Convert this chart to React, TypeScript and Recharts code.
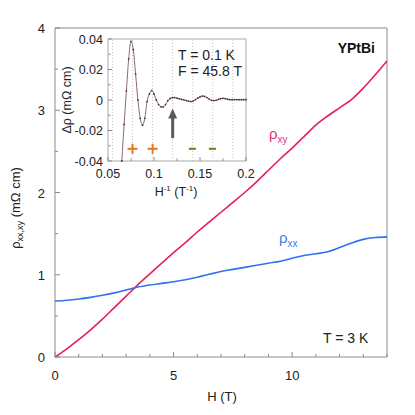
import React from 'react';
import {
  LineChart,
  ComposedChart,
  Line,
  XAxis,
  YAxis,
  ReferenceArea,
  ReferenceLine,
  Scatter,
} from 'recharts';

// ---------- main panel data ----------
const fieldT = [0, 0.5, 1, 1.5, 2, 2.5, 3, 3.5, 4, 4.5, 5, 5.5, 6, 6.5, 7, 7.5, 8, 8.5, 9, 9.5, 10, 10.5, 11, 11.5, 12, 12.5, 13, 13.5, 14];
const rhoXY = [0, 0.1, 0.21, 0.33, 0.46, 0.6, 0.74, 0.88, 1.01, 1.14, 1.27, 1.39, 1.52, 1.64, 1.76, 1.88, 2.0, 2.13, 2.27, 2.41, 2.54, 2.68, 2.82, 2.93, 3.03, 3.13, 3.27, 3.43, 3.6];
const rhoXX = [0.68, 0.69, 0.705, 0.725, 0.75, 0.78, 0.815, 0.85, 0.875, 0.895, 0.915, 0.94, 0.97, 1.005, 1.04, 1.065, 1.09, 1.115, 1.14, 1.165, 1.2, 1.235, 1.255, 1.28, 1.33, 1.385, 1.43, 1.452, 1.46];
const mainXTicks = [0, 1, 2, 3, 4, 5, 6, 7, 8, 9, 10, 11, 12, 13, 14];
const mainXLabels = [0, 5, 10];
const mainYTicks = [0, 0.5, 1, 1.5, 2, 2.5, 3, 3.5, 4];
const mainYLabels = [0, 1, 2, 3, 4];

// ---------- inset data ----------
const invField = [0.065, 0.0675, 0.07, 0.0725, 0.075, 0.0775, 0.08, 0.0825, 0.085, 0.0875, 0.09, 0.0925, 0.095, 0.0975, 0.1, 0.1025, 0.105, 0.1075, 0.11, 0.1125, 0.115, 0.1175, 0.12, 0.1225, 0.125, 0.1275, 0.13, 0.1325, 0.135, 0.1375, 0.14, 0.1425, 0.145, 0.1475, 0.15, 0.1525, 0.155, 0.1575, 0.16, 0.1625, 0.165, 0.1675, 0.17, 0.1725, 0.175, 0.1775, 0.18, 0.1825, 0.185, 0.1875, 0.19, 0.1925, 0.195, 0.1975, 0.2];
const deltaRho = [-0.04, -0.016, 0.006, 0.027, 0.0385, 0.033, 0.017, 0.0, -0.012, -0.0165, -0.012, -0.001, 0.004, 0.0062, 0.004, 0.0, -0.003, -0.0045, -0.0045, -0.003, -0.0005, 0.001, 0.0015, 0.0016, 0.0012, 0.0008, 0.0004, 0.0001, -0.0004, -0.0008, -0.001, -0.0007, 0.0002, 0.0012, 0.002, 0.0026, 0.0024, 0.0016, 0.0006, -0.0002, -0.0004, -0.0002, 0.0004, 0.0009, 0.0011, 0.0009, 0.0005, 0.0002, 0.0002, 0.0003, 0.0002, 0.0002, 0.0002, 0.0002, 0.0002];
const fringeLines = [0.0549, 0.0767, 0.0985, 0.1203, 0.1421, 0.1639, 0.1857];
const plusMarks = [0.0766, 0.0985];
const minusMarks = [0.1417, 0.1635];
const markLevel = -0.032;
const arrowX = 0.1203;
const arrowFrom = -0.025;
const arrowTo = -0.0055;
const insetXTicks = [0.05, 0.075, 0.1, 0.125, 0.15, 0.175, 0.2];
const insetXLabels = ['0.05', '0.1', '0.15', '0.2'];
const insetYTicks = [-0.04, -0.03, -0.02, -0.01, 0, 0.01, 0.02, 0.03, 0.04];
const insetYLabels = ['-0.04', '-0.02', '0', '0.02', '0.04'];

const mainData = fieldT.map((h, i) => ({ H: h, xy: rhoXY[i], xx: rhoXX[i] }));
const insetData = invField.map((x, i) => ({ x, y: deltaRho[i] }));
const plusData = plusMarks.map((x) => ({ x, y: markLevel }));
const minusData = minusMarks.map((x) => ({ x, y: markLevel }));

const FONT = '"Liberation Sans", Arial, sans-serif';
const TICK_COLOR = '#8a8a8a';
const TEXT_COLOR = '#222';

const fmtInset = (v: number) => (Math.abs(v) < 1e-9 ? '0' : String(+v.toFixed(3)));

const MainXTick = (props: any) => {
  const { x, y, payload } = props;
  const v = payload.value;
  const major = mainXLabels.includes(v);
  return (
    <g>
      <line x1={x} x2={x} y1={y} y2={y - (major ? 5 : 3)} stroke={TICK_COLOR} />
      {major && (
        <text x={x} y={y + 23} textAnchor="middle" fontSize={13} fontFamily={FONT} fill={TEXT_COLOR}>
          {v}
        </text>
      )}
    </g>
  );
};

const MainYTick = (props: any) => {
  const { x, y, payload } = props;
  const v = payload.value;
  const major = mainYLabels.includes(v);
  return (
    <g>
      <line x1={x} x2={x + (major ? 5 : 3)} y1={y} y2={y} stroke={TICK_COLOR} />
      {major && (
        <text x={x - 10} y={y + 5} textAnchor="end" fontSize={13} fontFamily={FONT} fill={TEXT_COLOR}>
          {v}
        </text>
      )}
    </g>
  );
};

const InsetXTick = (props: any) => {
  const { x, y, payload } = props;
  const label = fmtInset(payload.value);
  const major = insetXLabels.includes(label);
  return (
    <g>
      <line x1={x} x2={x} y1={y} y2={y - (major ? 4 : 2.5)} stroke={TICK_COLOR} />
      {major && (
        <text x={x} y={y + 17} textAnchor="middle" fontSize={12.5} fontFamily={FONT} fill={TEXT_COLOR}>
          {label}
        </text>
      )}
    </g>
  );
};

const InsetYTick = (props: any) => {
  const { x, y, payload } = props;
  const label = fmtInset(payload.value);
  const major = insetYLabels.includes(label);
  return (
    <g>
      <line x1={x} x2={x + (major ? 4 : 2.5)} y1={y} y2={y} stroke={TICK_COLOR} />
      {major && (
        <text x={x - 5} y={y + 4.5} textAnchor="end" fontSize={12.5} fontFamily={FONT} fill={TEXT_COLOR}>
          {label}
        </text>
      )}
    </g>
  );
};

const PlusShape = (props: any) => {
  const { cx, cy } = props;
  return (
    <g stroke="#e5781e" strokeWidth={2}>
      <line x1={cx - 5} x2={cx + 5} y1={cy} y2={cy} />
      <line x1={cx} x2={cx} y1={cy - 5} y2={cy + 5} />
    </g>
  );
};

const MinusShape = (props: any) => {
  const { cx, cy } = props;
  return <line x1={cx - 3.5} x2={cx + 3.5} y1={cy} y2={cy} stroke="#8f7d0a" strokeWidth={2.2} />;
};

const ArrowShape = (props: any) => {
  const { x1, y1, x2, y2 } = props;
  const headLen = 10;
  const headHalf = 4.5;
  return (
    <g>
      <line x1={x1} x2={x2} y1={y1} y2={y2 + headLen - 1} stroke="#5a5a5a" strokeWidth={3} />
      <polygon
        points={`${x2},${y2} ${x2 - headHalf},${y2 + headLen} ${x2 + headHalf},${y2 + headLen}`}
        fill="#5a5a5a"
      />
    </g>
  );
};

export default function App() {
  return (
    <div style={{ position: 'absolute', left: 0, top: 0, width: 415, height: 415, background: '#fff' }}>
      <div style={{ position: 'absolute', left: 0, top: 0 }}>
        <LineChart width={415} height={415} data={mainData} margin={{ top: 28, right: 28, bottom: 0, left: 0 }}>
          <XAxis
            dataKey="H"
            type="number"
            domain={[0, 14]}
            ticks={mainXTicks}
            interval={0}
            tickSize={0}
            tickMargin={0}
            axisLine={false}
            height={58}
            tick={<MainXTick />}
          />
          <YAxis
            type="number"
            domain={[0, 4]}
            ticks={mainYTicks}
            interval={0}
            width={55}
            tickSize={0}
            tickMargin={0}
            axisLine={false}
            tick={<MainYTick />}
          />
          <ReferenceArea x1={0} x2={14} y1={0} y2={4} fill="none" stroke="#8c8c8c" strokeWidth={1} ifOverflow="visible" />
          <Line type="monotone" dataKey="xy" stroke="#e6205d" strokeWidth={1.6} dot={false} isAnimationActive={false} />
          <Line type="monotone" dataKey="xx" stroke="#2e73ef" strokeWidth={1.6} dot={false} isAnimationActive={false} />
        </LineChart>
      </div>

      <div style={{ position: 'absolute', left: 50, top: 20 }}>
        <ComposedChart width={220} height={170} data={insetData} margin={{ top: 19, right: 24, bottom: 0, left: 0 }}>
          <XAxis
            dataKey="x"
            type="number"
            domain={[0.05, 0.2]}
            ticks={insetXTicks}
            interval={0}
            tickSize={0}
            tickMargin={0}
            axisLine={false}
            height={29}
            tick={<InsetXTick />}
          />
          <YAxis
            dataKey="y"
            type="number"
            domain={[-0.04, 0.04]}
            ticks={insetYTicks}
            interval={0}
            width={58}
            tickSize={0}
            tickMargin={0}
            axisLine={false}
            tick={<InsetYTick />}
          />
          {fringeLines.map((v) => (
            <ReferenceLine key={v} x={v} stroke="#c4c4c4" strokeDasharray="1 2" />
          ))}
          <ReferenceArea x1={0.05} x2={0.2} y1={-0.04} y2={0.04} fill="none" stroke="#a9a9a9" strokeWidth={1} ifOverflow="visible" />
          <Line
            type="monotone"
            dataKey="y"
            stroke="#8a6b66"
            strokeWidth={1}
            dot={{ r: 0.9, fill: '#4a3430', stroke: 'none' }}
            isAnimationActive={false}
          />
          <Scatter data={plusData} dataKey="y" shape={<PlusShape />} isAnimationActive={false} />
          <Scatter data={minusData} dataKey="y" shape={<MinusShape />} isAnimationActive={false} />
          <ReferenceLine
            segment={[
              { x: arrowX, y: arrowFrom },
              { x: arrowX, y: arrowTo },
            ]}
            shape={ArrowShape}
          />
        </ComposedChart>
      </div>

      <svg
        width={415}
        height={415}
        style={{ position: 'absolute', left: 0, top: 0, pointerEvents: 'none' }}
        fontFamily={FONT}
      >
        {/* main axis labels */}
        <text x={222} y={401} textAnchor="middle" fontSize={13} fill={TEXT_COLOR}>
          H (T)
        </text>
        <text transform="translate(20,208) rotate(-90)" textAnchor="middle" fontSize={13} fill={TEXT_COLOR}>
          ρ
          <tspan fontSize={9} dy={3}>xx,xy</tspan>
          <tspan dy={-3}> (mΩ cm)</tspan>
        </text>
        {/* annotations */}
        <text x={375} y={53} textAnchor="end" fontSize={14} fontWeight="bold" fill="#111">
          YPtBi
        </text>
        <text x={323} y={343} fontSize={14} fill={TEXT_COLOR}>
          T = 3 K
        </text>
        <text x={269} y={139} fontSize={15} fill="#e0358a">
          ρ
          <tspan fontSize={10} dy={4}>xy</tspan>
        </text>
        <text x={279} y={243} fontSize={15} fill="#3a7ceb">
          ρ
          <tspan fontSize={10} dy={4}>xx</tspan>
        </text>
        {/* inset labels */}
        <text x={178} y={60} fontSize={14} fill={TEXT_COLOR}>
          T = 0.1 K
        </text>
        <text x={178} y={76} fontSize={14} fill={TEXT_COLOR}>
          F = 45.8 T
        </text>
        <text x={176} y={196} textAnchor="middle" fontSize={12.5} fill={TEXT_COLOR}>
          H
          <tspan fontSize={8} dy={-5}>-1</tspan>
          <tspan dy={5}> (T</tspan>
          <tspan fontSize={8} dy={-5}>-1</tspan>
          <tspan dy={5}>)</tspan>
        </text>
        <text transform="translate(71,100) rotate(-90)" textAnchor="middle" fontSize={12.5} fill={TEXT_COLOR}>
          Δρ (mΩ cm)
        </text>
      </svg>
    </div>
  );
}
